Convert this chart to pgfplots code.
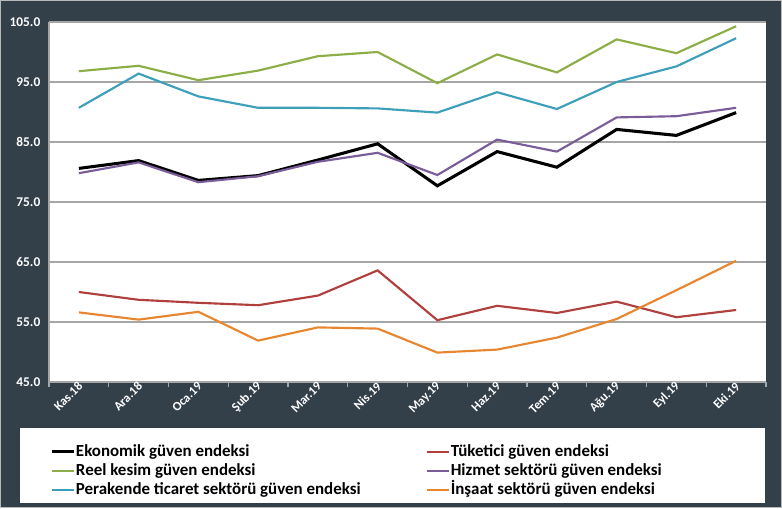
\documentclass[border=0pt]{standalone}
\usepackage{fontspec}
\setmainfont{Carlito}
\usepackage{pgfplots}
\pgfplotsset{compat=1.18}

\definecolor{bgdark}{HTML}{333F49}
\definecolor{gridgray}{HTML}{A6A6A6}
\definecolor{cred}{HTML}{B0403D}
\definecolor{cgreen}{HTML}{8DAE46}
\definecolor{cpurple}{HTML}{7A5C98}
\definecolor{cblue}{HTML}{3E9FBA}
\definecolor{corange}{HTML}{E8862F}

\begin{document}
\begin{tikzpicture}[x=0.75pt,y=0.75pt]
% background, 1 unit = 1 px of the reference
\fill[bgdark] (-49,-126) rectangle (733,382);
\draw[gray!55, line width=0.6pt] (-48.6,-125.6) rectangle (732.6,381.6);
\fill[white] (-29,-121) rectangle (716,-46);
\begin{axis}[
    at={(0,0)}, anchor=south west,
    scale only axis,
    width=537.75pt, height=270pt,
    xmin=-0.5, xmax=11.5,
    ymin=45, ymax=105,
    axis background/.style={fill=white},
    axis lines=left,
    axis line style={gridgray, line width=0.8pt, -},
    ytick={45,55,...,105},
    ymajorgrids=true,
    grid style={gridgray, line width=0.8pt},
    major tick length=0pt,
    xtick={0,...,11},
    xticklabels={Kas.18,Ara.18,Oca.19,Şub.19,Mar.19,Nis.19,May.19,Haz.19,Tem.19,Ağu.19,Eyl.19,Eki.19},
    minor xtick={-0.5,0.5,...,11.5},
    minor tick length=4pt,
    tick align=outside,
    minor tick style={gridgray, line width=0.8pt},
    /pgf/number format/assume math mode=true,
    yticklabel={\pgfmathprintnumber[fixed,fixed zerofill,precision=1]{\tick}},
    yticklabel style={font=\bfseries\fontsize{10}{12}\selectfont, text=white, xshift=-3pt},
    xticklabel style={font=\bfseries\fontsize{9.5}{11}\selectfont, text=white, rotate=45, anchor=east, xshift=3pt, yshift=-2pt},
    legend columns=2,
    legend style={at={(-0.0042,-0.16)}, anchor=north west, draw=none, fill=none,
        font=\bfseries\fontsize{12.7}{15}\selectfont, text=black,
        row sep=0.4pt,
        nodes={inner sep=0.5pt, text height=10pt, text depth=3pt}},
    legend image code/.code={\draw[#1] (0pt,0pt) -- (16.5pt,0pt);},
    legend cell align=left,
]
\addplot[black, line width=2.3pt] coordinates {
    (0,80.6) (1,81.9) (2,78.6) (3,79.4) (4,82.0) (5,84.7)
    (6,77.7) (7,83.4) (8,80.8) (9,87.1) (10,86.1) (11,89.9)};
\addlegendentry{\makebox[262pt][l]{Ekonomik güven endeksi}}
\addplot[cred, line width=1.6pt] coordinates {
    (0,60.0) (1,58.7) (2,58.2) (3,57.8) (4,59.4) (5,63.6)
    (6,55.3) (7,57.7) (8,56.5) (9,58.4) (10,55.8) (11,57.0)};
\addlegendentry{Tüketici güven endeksi}
\addplot[cgreen, line width=1.6pt] coordinates {
    (0,96.8) (1,97.7) (2,95.3) (3,96.9) (4,99.3) (5,100.0)
    (6,94.8) (7,99.6) (8,96.6) (9,102.1) (10,99.8) (11,104.3)};
\addlegendentry{\makebox[262pt][l]{Reel kesim güven endeksi}}
\addplot[cpurple, line width=1.6pt] coordinates {
    (0,79.8) (1,81.6) (2,78.3) (3,79.3) (4,81.7) (5,83.2)
    (6,79.5) (7,85.4) (8,83.4) (9,89.1) (10,89.3) (11,90.7)};
\addlegendentry{Hizmet sektörü güven endeksi}
\addplot[cblue, line width=1.6pt] coordinates {
    (0,90.7) (1,96.4) (2,92.6) (3,90.7) (4,90.7) (5,90.6)
    (6,89.9) (7,93.3) (8,90.5) (9,95.0) (10,97.6) (11,102.3)};
\addlegendentry{\makebox[262pt][l]{Perakende ticaret sektörü güven endeksi}}
\addplot[corange, line width=1.6pt] coordinates {
    (0,56.6) (1,55.4) (2,56.7) (3,51.9) (4,54.1) (5,53.9)
    (6,49.9) (7,50.4) (8,52.4) (9,55.5) (10,60.3) (11,65.2)};
\addlegendentry{İnşaat sektörü güven endeksi}
\end{axis}
\end{tikzpicture}
\end{document}
